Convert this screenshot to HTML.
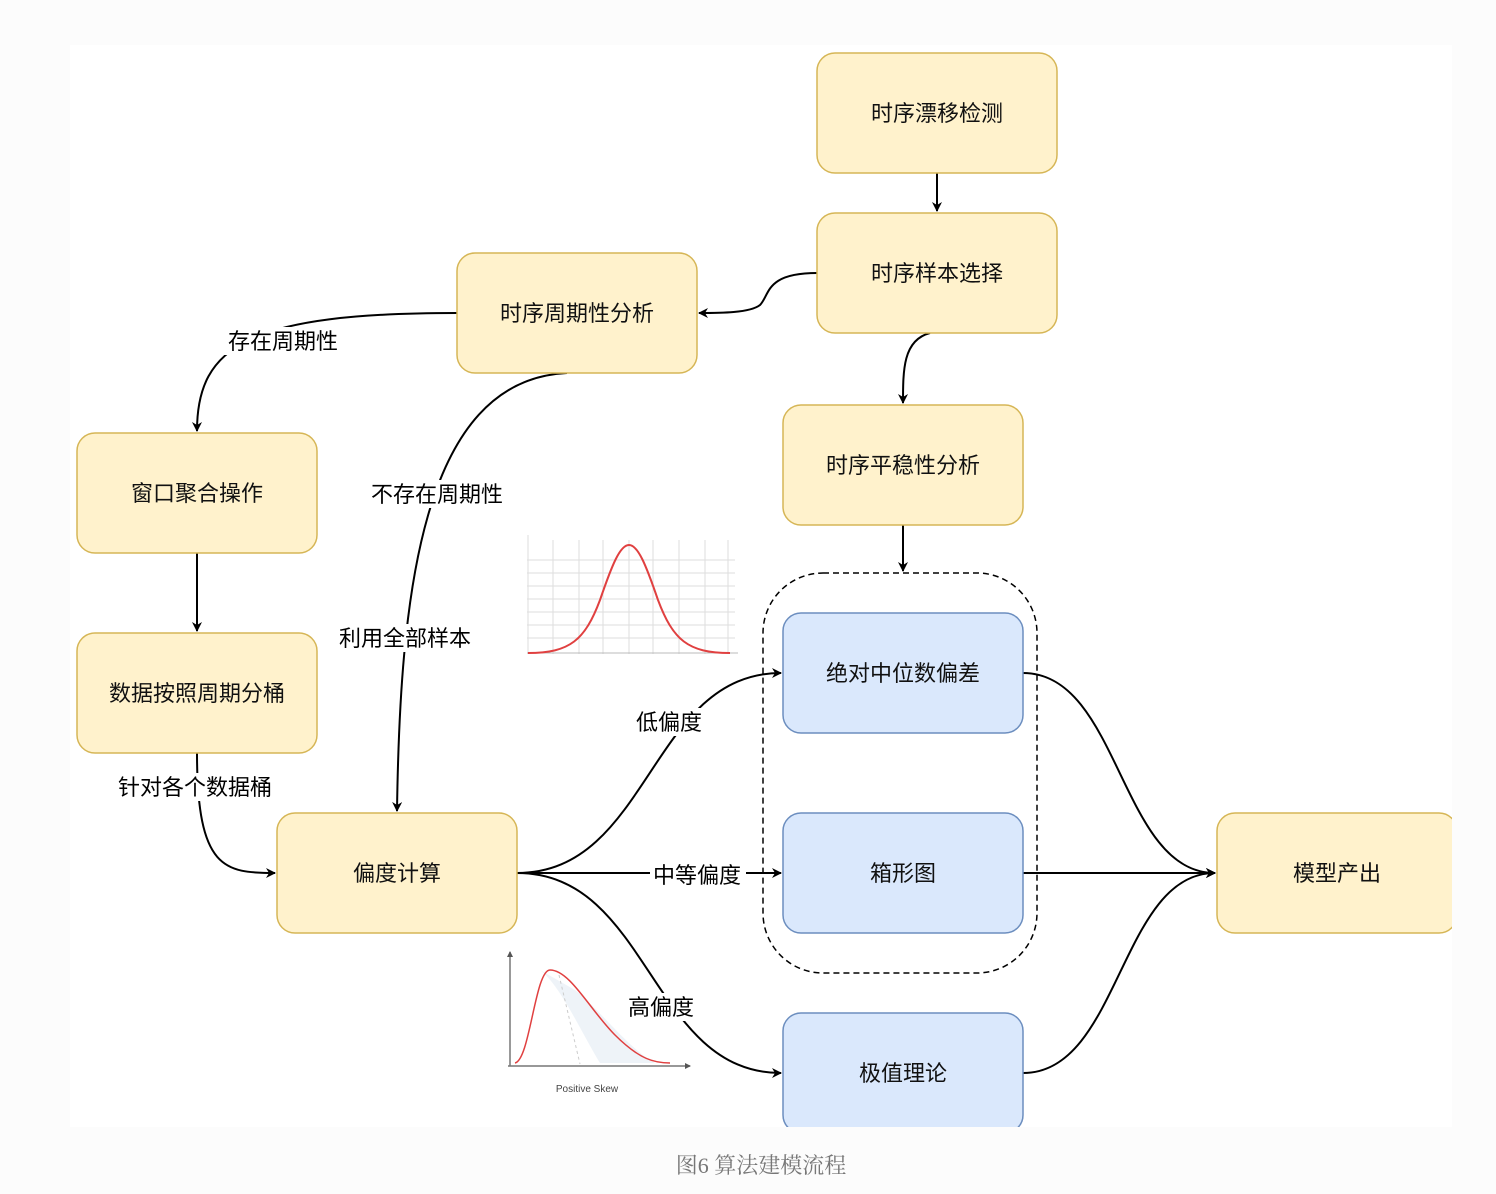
<!DOCTYPE html>
<html><head><meta charset="utf-8"><style>
body{margin:0;background:#fcfcfc;}
svg{display:block;font-family:"Liberation Sans","Noto Sans CJK SC",sans-serif;}
</style></head><body>
<svg width="1496" height="1194" viewBox="0 0 1496 1194" xmlns="http://www.w3.org/2000/svg">
<defs>
<marker id="a" markerWidth="10" markerHeight="10" refX="9" refY="5" orient="auto" markerUnits="userSpaceOnUse"><path d="M0,0 L10,5 L0,10 L3,5 Z" fill="#000"/></marker>
<marker id="s" markerWidth="6" markerHeight="6" refX="5" refY="3" orient="auto" markerUnits="userSpaceOnUse"><path d="M0,0 L6,3 L0,6 Z" fill="#555"/></marker>
<clipPath id="c"><rect x="70" y="45" width="1382" height="1082"/></clipPath>
</defs>
<rect x="70" y="45" width="1382" height="1082" fill="#fff"/>
<g clip-path="url(#c)">
<!-- normal chart -->
<g stroke="#ddd" stroke-width="1">
<line x1="527" y1="560" x2="735" y2="560"/><line x1="527" y1="573" x2="735" y2="573"/><line x1="527" y1="586" x2="735" y2="586"/><line x1="527" y1="599" x2="735" y2="599"/><line x1="527" y1="612" x2="735" y2="612"/><line x1="527" y1="625" x2="735" y2="625"/><line x1="527" y1="638" x2="735" y2="638"/>
<line x1="553" y1="540" x2="553" y2="654"/><line x1="579" y1="540" x2="579" y2="654"/><line x1="603" y1="540" x2="603" y2="654"/><line x1="629" y1="540" x2="629" y2="654"/><line x1="653" y1="540" x2="653" y2="654"/><line x1="679" y1="540" x2="679" y2="654"/><line x1="705" y1="540" x2="705" y2="654"/><line x1="728" y1="540" x2="728" y2="654"/>
<line x1="528" y1="535" x2="528" y2="654"/>
</g>
<line x1="527" y1="653" x2="738" y2="653" stroke="#bbb"/>
<path d="M528,653 C570,653 585,640 600,600 C612,565 620,545 629,545 C638,545 646,565 658,600 C673,640 688,653 730,653" fill="none" stroke="#e04040" stroke-width="2"/>
<!-- skew chart -->
<path d="M540,970 C560,985 580,1030 600,1063 L655,1063 C630,1050 600,1010 575,990 Z" fill="#eef3f8"/>
<line x1="559" y1="975" x2="580" y2="1064" stroke="#ccc" stroke-dasharray="3,3"/>
<line x1="510" y1="1066" x2="510" y2="952" stroke="#777" stroke-width="1.5" marker-end="url(#s)"/>
<line x1="508" y1="1066" x2="690" y2="1066" stroke="#777" stroke-width="1.5" marker-end="url(#s)"/>
<path d="M515,1063 C530,1060 535,970 550,970 C570,970 590,1010 615,1035 C640,1060 655,1063 670,1063" fill="none" stroke="#e04040" stroke-width="1.5"/>
<text x="587" y="1092" font-size="10" text-anchor="middle" fill="#444">Positive Skew</text>

<!-- edges -->
<g fill="none" stroke="#000" stroke-width="2" marker-end="url(#a)">
<path d="M937,173 L937,211"/>
<path d="M817,273 C765,273 770,295 760,305 C750,313 720,313 699,313"/>
<path d="M930,333 C903,340 903,370 903,403"/>
<path d="M903,525 L903,571"/>
<path d="M457,313 C250,313 197,345 197,431"/>
<path d="M197,553 L197,631"/>
<path d="M197,753 C197,870 225,873 275,873"/>
<path d="M567,373 C420,380 400,600 397,811"/>
<path d="M517,873 C650,873 650,673 781,673"/>
<path d="M517,873 L781,873"/>
<path d="M517,873 C650,873 650,1073 781,1073"/>
<path d="M1023,673 C1120,673 1120,873 1215,873"/>
<path d="M1023,873 L1215,873"/>
<path d="M1023,1073 C1120,1073 1120,873 1215,873"/>
</g>
<rect x="763" y="573" width="274" height="400" rx="60" fill="none" stroke="#000" stroke-width="1.5" stroke-dasharray="6,4"/>

<!-- edge labels -->
<g font-size="22" fill="#000" text-anchor="middle">
<rect x="222" y="327" width="124" height="28" fill="#fff"/><text x="283" y="349">存在周期性</text>
<rect x="364" y="480" width="146" height="28" fill="#fff"/><text x="437" y="502">不存在周期性</text>
<rect x="332" y="624" width="146" height="28" fill="#fff"/><text x="405" y="646">利用全部样本</text>
<rect x="108" y="773" width="172" height="28" fill="#fff"/><text x="195" y="795">针对各个数据桶</text>
<rect x="632" y="708" width="74" height="28" fill="#fff"/><text x="669" y="730">低偏度</text>
<rect x="650" y="861" width="96" height="28" fill="#fff"/><text x="697" y="883">中等偏度</text>
<rect x="624" y="993" width="74" height="28" fill="#fff"/><text x="661" y="1015">高偏度</text>
</g>

<!-- nodes -->
<g stroke="#d6b656" stroke-width="1.5" fill="#fff2cc">
<rect x="817" y="53" width="240" height="120" rx="18"/>
<rect x="817" y="213" width="240" height="120" rx="18"/>
<rect x="457" y="253" width="240" height="120" rx="18"/>
<rect x="77" y="433" width="240" height="120" rx="18"/>
<rect x="77" y="633" width="240" height="120" rx="18"/>
<rect x="277" y="813" width="240" height="120" rx="18"/>
<rect x="783" y="405" width="240" height="120" rx="18"/>
<rect x="1217" y="813" width="240" height="120" rx="18"/>
</g>
<g stroke="#6c8ebf" stroke-width="1.5" fill="#dae8fc">
<rect x="783" y="613" width="240" height="120" rx="18"/>
<rect x="783" y="813" width="240" height="120" rx="18"/>
<rect x="783" y="1013" width="240" height="120" rx="18"/>
</g>
<g font-size="22" fill="#111" text-anchor="middle">
<text x="937" y="121">时序漂移检测</text>
<text x="937" y="281">时序样本选择</text>
<text x="577" y="321">时序周期性分析</text>
<text x="197" y="501">窗口聚合操作</text>
<text x="197" y="701">数据按照周期分桶</text>
<text x="397" y="881">偏度计算</text>
<text x="903" y="473">时序平稳性分析</text>
<text x="1337" y="881">模型产出</text>
<text x="903" y="681">绝对中位数偏差</text>
<text x="903" y="881">箱形图</text>
<text x="903" y="1081">极值理论</text>
</g>
</g>
<text x="761" y="1173" font-size="22" fill="#777" text-anchor="middle" font-family="'Liberation Serif','Noto Serif CJK SC',serif">图6 算法建模流程</text>
</svg>
</body></html>
